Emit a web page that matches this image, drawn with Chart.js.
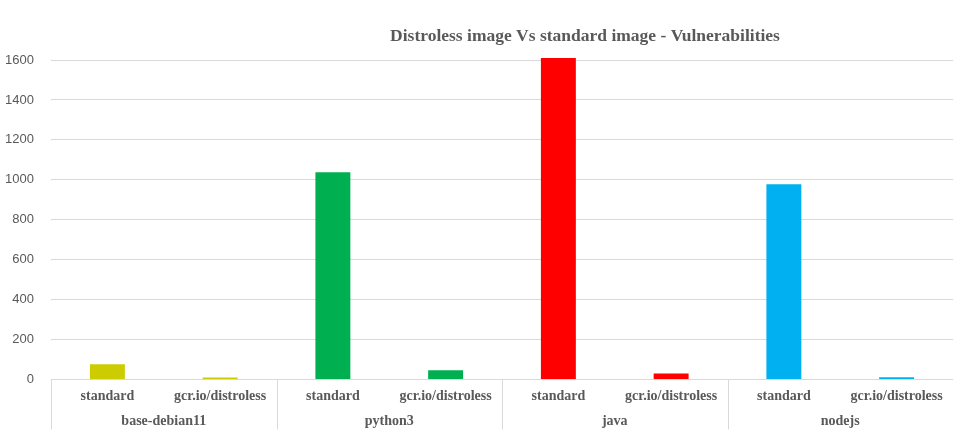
<!DOCTYPE html>
<html>
<head>
<meta charset="utf-8">
<script src="https://cdn.jsdelivr.net/npm/chart.js@4/dist/chart.umd.min.js"></script>
<style>
    html, body { margin: 0; padding: 0; background: #ffffff; }
    #wrap { width: 953px; height: 446px; position: relative; }
</style>
</head>
<body>
<div id="wrap"><canvas id="vulnChart"></canvas></div>
<script>
// Image groups and the two image flavours inside each group
const groups = ['base-debian11', 'python3', 'java', 'nodejs'];
const imageTypes = ['standard', 'gcr.io/distroless'];

// Vulnerability counts, ordered group by group (standard, distroless)
const vulnerabilities = [76, 10, 1038, 46, 1610, 29, 977, 11];

// One colour per group
const groupColors = ['#CCCC00', '#00B050', '#FF0000', '#00B0F0'];

const yTicks = [0, 200, 400, 600, 800, 1000, 1200, 1400, 1600];

const chartTitle = 'Distroless image Vs standard image - Vulnerabilities';

const textColor = '#595959';
const gridColor = '#D9D9D9';
const serifBold = { family: "'Liberation Serif', 'Times New Roman', serif", size: 14, weight: 'bold' };

const subLabels = groups.flatMap(() => imageTypes);
const barColors = vulnerabilities.map((v, i) => groupColors[Math.floor(i / imageTypes.length)]);

// Title sits off-centre like the original, so draw it ourselves
const titlePlugin = {
    id: 'offsetTitle',
    afterDraw(chart) {
        const ctx = chart.ctx;
        ctx.save();
        ctx.font = "bold 17.5px 'Liberation Serif', 'Times New Roman', serif";
        ctx.fillStyle = textColor;
        ctx.textAlign = 'center';
        ctx.textBaseline = 'middle';
        ctx.fillText(chartTitle, 585, 36);
        ctx.restore();
    }
};

// Vertical separators between the category groups (multi-level axis look)
const groupSeparators = {
    id: 'groupSeparators',
    afterDraw(chart) {
        const x = chart.scales.x;
        const step = x.getPixelForValue(1) - x.getPixelForValue(0);
        const ctx = chart.ctx;
        ctx.save();
        ctx.strokeStyle = gridColor;
        ctx.lineWidth = 1;
        for (let g = 0; g <= groups.length; g++) {
            const px = Math.round(x.getPixelForValue(g * imageTypes.length) - step / 2) + 0.5;
            ctx.beginPath();
            ctx.moveTo(px, x.top);
            ctx.lineTo(px, x.top + 50);
            ctx.stroke();
        }
        ctx.restore();
    }
};

new Chart(document.getElementById('vulnChart').getContext('2d'), {
    type: 'bar',
    data: {
        labels: subLabels,
        datasets: [{
            label: 'Vulnerabilities',
            data: vulnerabilities,
            backgroundColor: barColors,
            barPercentage: 0.31,
            categoryPercentage: 1,
            clip: false
        }]
    },
    options: {
        responsive: true,
        maintainAspectRatio: false,
        animation: false,
        layout: { padding: { left: 0, right: 0, top: 60, bottom: 17 } },
        scales: {
            x: {
                type: 'category',
                position: 'bottom',
                grid: { display: false, drawTicks: false },
                border: { display: true, color: gridColor },
                ticks: { color: textColor, font: serifBold, padding: 9, maxRotation: 0, autoSkip: false }
            },
            x2: {
                type: 'category',
                position: 'bottom',
                labels: groups,
                grid: { display: false, drawTicks: false },
                border: { display: false },
                ticks: { color: textColor, font: serifBold, padding: -1, maxRotation: 0, autoSkip: false }
            },
            y: {
                min: 0,
                max: 1600,
                afterBuildTicks: (scale) => { scale.ticks = yTicks.map(v => ({ value: v })); },
                afterFit: (scale) => { scale.width = 51; },
                grid: { color: gridColor, drawTicks: false },
                border: { display: false },
                ticks: {
                    color: textColor,
                    padding: 17,
                    font: { family: "'Liberation Sans Narrow', 'Liberation Sans', Arial, sans-serif", size: 13 },
                    callback: (value) => String(value)
                }
            }
        },
        plugins: {
            legend: { display: false },
            title: { display: false },
            tooltip: { enabled: false }
        }
    },
    plugins: [titlePlugin, groupSeparators]
});
</script>
</body>
</html>
